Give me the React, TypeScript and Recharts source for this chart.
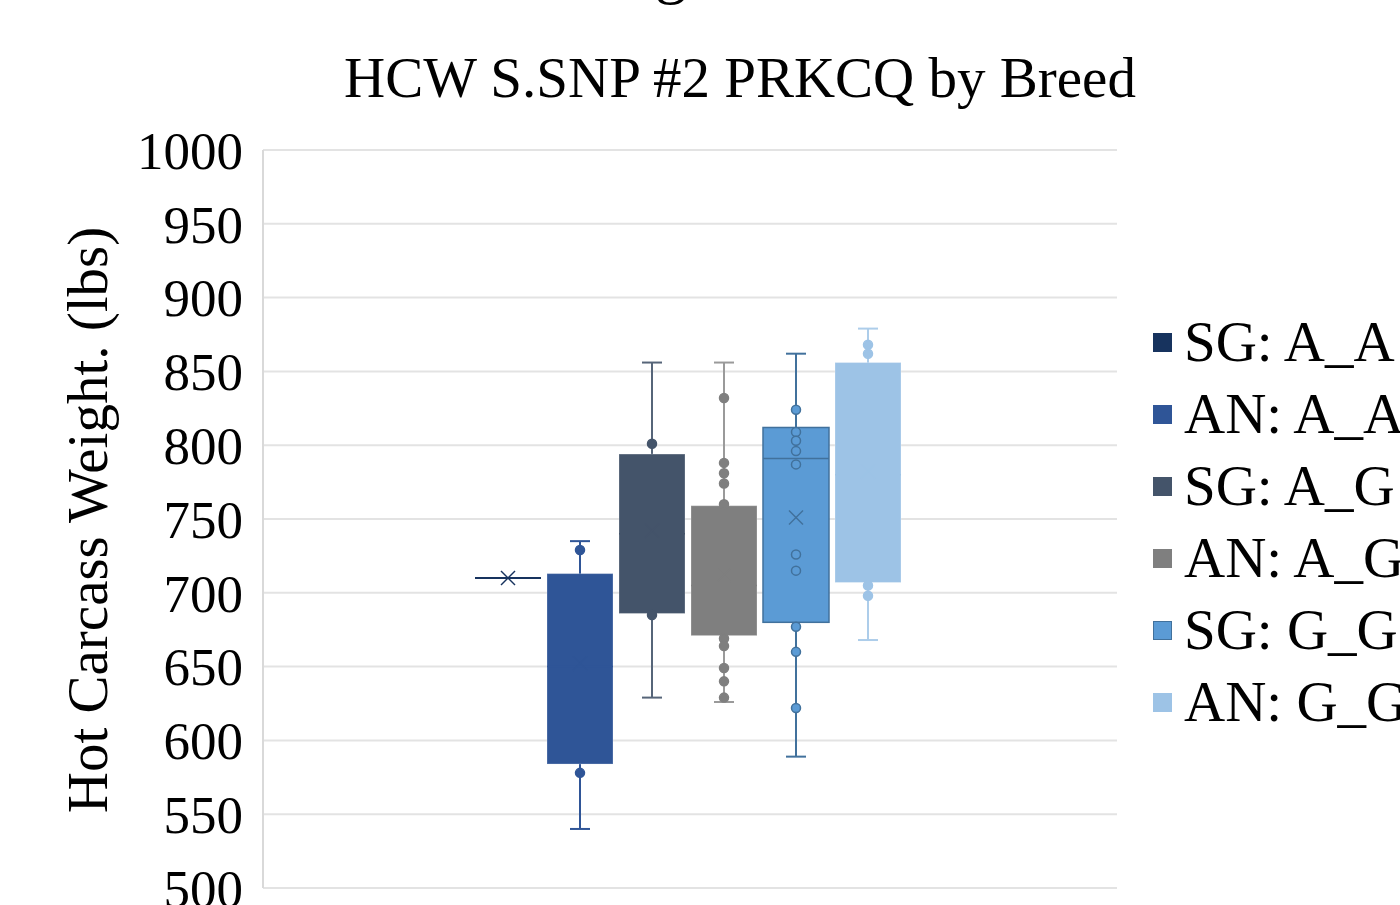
import React from "react";
import { ComposedChart, Bar, XAxis, YAxis, CartesianGrid } from "recharts";

const categories = ["SG: A_A", "AN: A_A", "SG: A_G", "AN: A_G", "SG: G_G", "AN: G_G"];
const whiskerLow = [710, 540, 629, 626, 589, 668];
const q1 = [710, 584, 686, 671, 680, 707];
const median = [710, 650, 740, 705, 791, 780];
const q3 = [710, 713, 794, 759, 812, 856];
const whiskerHigh = [710, 735, 856, 856, 862, 879];
const means = [710, 652, 742, 712, 751, 782];
const points: number[][] = [
  [],
  [729, 578],
  [801, 685],
  [832, 788, 781, 774, 760, 669, 664, 649, 640, 629],
  [824, 809, 803, 796, 787, 726, 715, 677, 660, 622],
  [868, 862, 705, 698],
];
const yTicks = [500, 550, 600, 650, 700, 750, 800, 850, 900, 950, 1000];

const fills = ["#17335E", "#2F5597", "#44546A", "#7F7F7F", "#5B9BD5", "#9DC3E6"];
const borders = ["#17335E", "#2F5597", "#44546A", "#7F7F7F", "#41719C", "#9DC3E6"];
const whiskerColors = ["#17335E", "#2F5597", "#566579", "#9A9A9A", "#41719C", "#ADCDEA"];

const FONT = "'Liberation Serif', 'DejaVu Serif', serif";

const row: Record<string, any> = { name: "HCW" };
categories.forEach((_, i) => {
  row["s" + i] = [whiskerLow[i], whiskerHigh[i]];
});
const data = [row];

const makeShape = (i: number) => (props: any) => {
  const { x, y, width, height } = props;
  const cx = x + width / 2;
  const lo = whiskerLow[i];
  const hi = whiskerHigh[i];
  const xs = 7;
  if (hi === lo || !height) {
    return (
      <g>
        <line x1={x} x2={x + width} y1={y} y2={y} stroke={fills[i]} strokeWidth={2} />
        <line x1={cx - xs} x2={cx + xs} y1={y - xs} y2={y + xs} stroke={fills[i]} strokeWidth={1.5} />
        <line x1={cx - xs} x2={cx + xs} y1={y + xs} y2={y - xs} stroke={fills[i]} strokeWidth={1.5} />
      </g>
    );
  }
  const k = height / (hi - lo);
  const toY = (v: number) => y + (hi - v) * k;
  const wc = whiskerColors[i];
  const b = borders[i];
  const hasBorder = b !== fills[i];
  return (
    <g>
      <line x1={cx} x2={cx} y1={toY(hi)} y2={toY(lo)} stroke={wc} strokeWidth={2} />
      <line x1={cx - 10} x2={cx + 10} y1={toY(hi)} y2={toY(hi)} stroke={wc} strokeWidth={2} />
      <line x1={cx - 10} x2={cx + 10} y1={toY(lo)} y2={toY(lo)} stroke={wc} strokeWidth={2} />
      <rect
        x={x}
        y={toY(q3[i])}
        width={width}
        height={toY(q1[i]) - toY(q3[i])}
        fill={fills[i]}
        stroke={hasBorder ? b : "rgba(255,255,255,0.25)"}
        strokeWidth={hasBorder ? 1.5 : 1}
      />
      <line x1={x} x2={x + width} y1={toY(median[i])} y2={toY(median[i])} stroke={b} strokeWidth={1.5} />
      <line x1={cx - xs} x2={cx + xs} y1={toY(means[i]) - xs} y2={toY(means[i]) + xs} stroke={b} strokeWidth={1.5} />
      <line x1={cx - xs} x2={cx + xs} y1={toY(means[i]) + xs} y2={toY(means[i]) - xs} stroke={b} strokeWidth={1.5} />
      {points[i].map((p, j) => (
        <circle key={j} cx={cx} cy={toY(p)} r={4.5} fill={fills[i]} stroke={b} strokeWidth={1.5} />
      ))}
    </g>
  );
};

export default function App() {
  return (
    <div
      style={{
        position: "absolute",
        left: 0,
        top: 0,
        width: 1400,
        height: 905,
        overflow: "hidden",
        background: "#fff",
        fontFamily: FONT,
      }}
    >
      <div
        style={{
          position: "absolute",
          left: 671,
          top: -62,
          transform: "translateX(-50%)",
          fontSize: 64,
          lineHeight: "64px",
          color: "#000",
        }}
      >
        g
      </div>
      <div
        style={{
          position: "absolute",
          left: 0,
          width: 1480,
          top: 46,
          textAlign: "center",
          fontSize: 57,
          lineHeight: "64px",
          color: "#000",
          whiteSpace: "nowrap",
        }}
      >
        HCW S.SNP #2 PRKCQ by Breed
      </div>
      <div
        style={{
          position: "absolute",
          left: 88,
          top: 520,
          transform: "translate(-50%, -50%) rotate(-90deg)",
          fontSize: 57,
          lineHeight: "60px",
          whiteSpace: "nowrap",
          color: "#000",
        }}
      >
        Hot Carcass Weight. (lbs)
      </div>
      <ComposedChart
        width={1400}
        height={905}
        data={data}
        margin={{ top: 150, right: 283, bottom: 17, left: 143 }}
        barSize={66}
        barGap={6}
      >
        <CartesianGrid vertical={false} stroke="#e3e3e3" strokeWidth={2} />
        <XAxis dataKey="name" hide padding={{ left: 0, right: 5 }} />
        <YAxis
          type="number"
          domain={[500, 1000]}
          ticks={yTicks}
          interval={0}
          width={120}
          tickLine={false}
          tickMargin={14}
          axisLine={{ stroke: "#d9d9d9", strokeWidth: 2 }}
          tick={{ fontSize: 53, fill: "#000", fontFamily: FONT }}
          allowDataOverflow
        />
        {categories.map((c, i) => (
          <Bar key={c} dataKey={"s" + i} name={c} fill={fills[i]} shape={makeShape(i)} isAnimationActive={false} />
        ))}
      </ComposedChart>
      <div style={{ position: "absolute", left: 1153, top: 306 }}>
        {categories.map((c, i) => (
          <div key={c} style={{ display: "flex", alignItems: "center", height: 72 }}>
            <div
              style={{
                width: 19,
                height: 19,
                background: fills[i],
                border: "1px solid " + borders[i],
                boxSizing: "border-box",
                marginRight: 12,
              }}
            />
            <span style={{ fontSize: 57, lineHeight: "72px", whiteSpace: "nowrap", color: "#000" }}>{c}</span>
          </div>
        ))}
      </div>
    </div>
  );
}
